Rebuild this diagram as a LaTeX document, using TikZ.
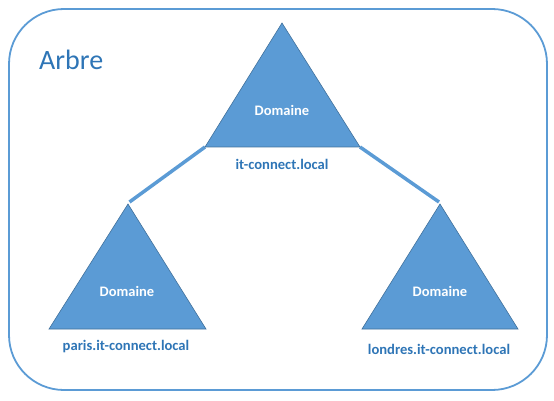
\documentclass[tikz,border=0pt]{standalone}
\usepackage{fontspec}
\setmainfont{Carlito}
\definecolor{officeblue}{HTML}{5B9BD5}
\definecolor{edgeblue}{HTML}{41719C}
\definecolor{textblue}{HTML}{2E75B6}
\begin{document}
\begin{tikzpicture}[x=1pt,y=-1pt,
  tri/.style={fill=officeblue,draw=edgeblue,line width=0.6pt,line join=miter},
  domlabel/.style={text=white,font=\fontsize{14.5}{16}\selectfont\bfseries,inner sep=0pt},
  namelabel/.style={text=textblue,font=\fontsize{14.6}{16}\selectfont\bfseries,inner sep=0pt},
  link/.style={draw=officeblue,line width=3.5pt}]
\useasboundingbox (0,0) rectangle (554,401);
\draw[officeblue,line width=1.8pt,rounded corners=55pt] (9,9) rectangle (547,390);
\node[text=textblue,font=\fontsize{28}{30}\selectfont,anchor=west,inner sep=0pt] (arbre) at (39,60) {Arbre};
% top triangle
\coordinate (tA) at (282,23);
\coordinate (tL) at (205,147);
\coordinate (tR) at (360,147);
% left triangle
\coordinate (lA) at (128,204);
\coordinate (lL) at (49,329);
\coordinate (lR) at (206,329);
% right triangle
\coordinate (rA) at (440,204);
\coordinate (rL) at (362,329);
\coordinate (rR) at (518,329);
\draw[link] (tL) -- ([xshift=1.5pt,yshift=2pt]lA);
\draw[link] (tR) -- ([xshift=-1pt,yshift=2pt]rA);
\draw[tri] (tA) -- (tL) -- (tR) -- cycle;
\draw[tri] (lA) -- (lL) -- (lR) -- cycle;
\draw[tri] (rA) -- (rL) -- (rR) -- cycle;
\node[domlabel] (d1) at (282,110) {Domaine};
\node[domlabel] (d2) at (127,291) {Domaine};
\node[domlabel] (d3) at (440,291) {Domaine};
\node[namelabel] (n1) at (282,164) {it-connect.local};
\node[namelabel] (n2) at (126,347) {paris.it-connect.local};
\node[namelabel] (n3) at (439,349) {londres.it-connect.local};
\end{tikzpicture}
\end{document}
